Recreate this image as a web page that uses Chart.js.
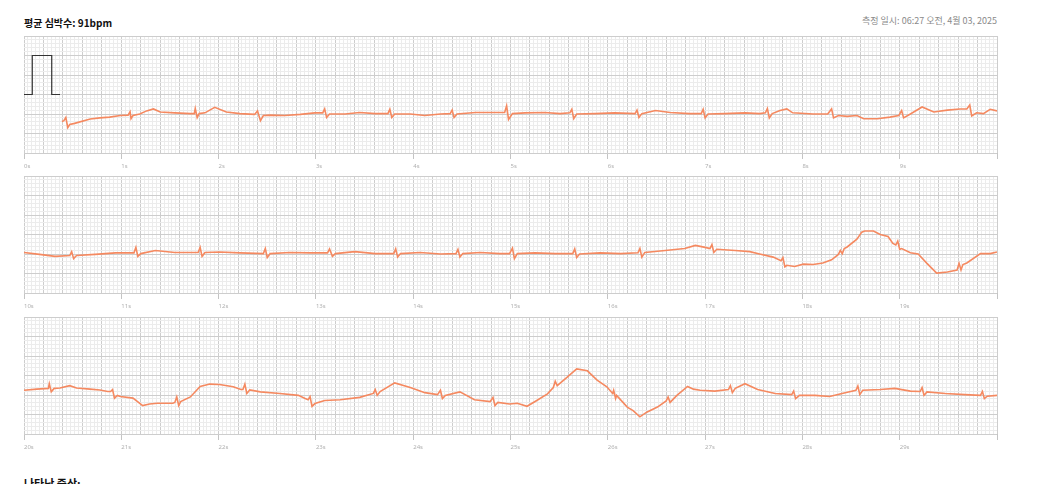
<!DOCTYPE html>
<html><head><meta charset="utf-8">
<script src="https://cdn.jsdelivr.net/npm/chart.js@4.4.1/dist/chart.umd.min.js"></script>
<style>
html,body{margin:0;padding:0;background:#fff;width:1040px;height:484px;overflow:hidden;font-family:"Noto Sans CJK KR","Noto Sans",sans-serif;}
.t{position:absolute;white-space:nowrap;line-height:15px;}
.strip{position:absolute;left:0;width:1040px;height:142px;}
</style></head><body>
<div class="t" style="left:24px;top:15px;font-size:10px;font-weight:700;color:#111">평균 심박수: 91bpm</div>
<div class="t" style="right:43px;top:13px;font-size:9px;color:#8a8a8a">측정 일시: 06:27 오전, 4월 03, 2025</div>
<div class="strip" style="top:34px"><canvas id="c0"></canvas></div>
<div class="strip" style="top:174px"><canvas id="c1"></canvas></div>
<div class="strip" style="top:315px"><canvas id="c2"></canvas></div>
<div class="t" style="left:24px;top:476px;font-size:11px;font-weight:700;color:#111">나타난 증상:</div>
<script>
// seconds at the start of each strip
const stripStartSec = [0, 10, 20];

// calibration pulse (time s, mV)
const row1Cal = [[0,0],[0.085,0],[0.085,1],[0.285,1],[0.285,0],[0.37,0]];

// ECG strip 1 (time s, mV)
const row1Ecg = [[0.39,-0.69],[0.41,-0.67],[0.43,-0.59],[0.45,-0.85],[0.47,-0.77],[0.52,-0.74],[0.68,-0.63],[0.78,-0.60],[0.88,-0.58],[0.99,-0.54],[1.07,-0.53],[1.09,-0.44],[1.10,-0.62],[1.12,-0.54],[1.19,-0.50],[1.26,-0.42],[1.33,-0.37],[1.40,-0.45],[1.55,-0.47],[1.71,-0.49],[1.75,-0.49],[1.76,-0.36],[1.78,-0.59],[1.80,-0.49],[1.86,-0.47],[1.96,-0.33],[2.08,-0.45],[2.22,-0.49],[2.37,-0.51],[2.40,-0.42],[2.43,-0.67],[2.46,-0.54],[2.53,-0.53],[2.68,-0.54],[2.84,-0.51],[2.99,-0.47],[3.07,-0.47],[3.09,-0.37],[3.11,-0.59],[3.14,-0.50],[3.30,-0.50],[3.45,-0.46],[3.61,-0.49],[3.74,-0.49],[3.76,-0.38],[3.78,-0.59],[3.81,-0.50],[3.97,-0.50],[4.12,-0.54],[4.28,-0.50],[4.38,-0.49],[4.40,-0.40],[4.42,-0.59],[4.45,-0.50],[4.64,-0.46],[4.84,-0.46],[4.94,-0.46],[4.96,-0.29],[4.98,-0.64],[5.02,-0.49],[5.15,-0.47],[5.35,-0.46],[5.51,-0.49],[5.61,-0.47],[5.63,-0.38],[5.65,-0.62],[5.68,-0.50],[5.87,-0.49],[6.07,-0.47],[6.28,-0.49],[6.30,-0.40],[6.32,-0.59],[6.35,-0.49],[6.49,-0.41],[6.64,-0.46],[6.84,-0.49],[6.96,-0.49],[6.98,-0.38],[7.00,-0.60],[7.03,-0.50],[7.20,-0.49],[7.41,-0.47],[7.56,-0.49],[7.62,-0.47],[7.64,-0.36],[7.66,-0.60],[7.69,-0.49],[7.77,-0.41],[7.84,-0.37],[7.90,-0.47],[8.11,-0.50],[8.26,-0.50],[8.30,-0.37],[8.32,-0.60],[8.37,-0.54],[8.46,-0.56],[8.56,-0.54],[8.63,-0.62],[8.77,-0.62],[8.90,-0.58],[8.99,-0.54],[9.02,-0.41],[9.04,-0.60],[9.11,-0.50],[9.23,-0.32],[9.35,-0.45],[9.49,-0.40],[9.62,-0.37],[9.69,-0.37],[9.72,-0.27],[9.74,-0.55],[9.79,-0.47],[9.86,-0.49],[9.93,-0.38],[10.0,-0.42]];

// ECG strip 2 (time s, mV)
const row2Ecg = [[0.00,-0.46],[0.16,-0.51],[0.32,-0.56],[0.47,-0.54],[0.49,-0.44],[0.51,-0.62],[0.54,-0.54],[0.73,-0.51],[0.94,-0.47],[1.13,-0.47],[1.15,-0.33],[1.17,-0.56],[1.20,-0.49],[1.35,-0.41],[1.55,-0.46],[1.71,-0.46],[1.79,-0.46],[1.81,-0.33],[1.83,-0.56],[1.86,-0.46],[2.01,-0.45],[2.22,-0.47],[2.46,-0.49],[2.48,-0.36],[2.50,-0.59],[2.53,-0.49],[2.73,-0.46],[2.94,-0.47],[3.12,-0.47],[3.14,-0.37],[3.17,-0.56],[3.20,-0.49],[3.40,-0.44],[3.61,-0.49],[3.80,-0.49],[3.82,-0.37],[3.84,-0.58],[3.87,-0.49],[4.07,-0.46],[4.28,-0.50],[4.44,-0.49],[4.46,-0.38],[4.48,-0.58],[4.51,-0.49],[4.69,-0.46],[4.89,-0.49],[4.99,-0.49],[5.02,-0.35],[5.04,-0.62],[5.07,-0.49],[5.25,-0.47],[5.46,-0.49],[5.64,-0.49],[5.66,-0.37],[5.68,-0.59],[5.71,-0.50],[5.92,-0.47],[6.13,-0.49],[6.31,-0.47],[6.33,-0.36],[6.35,-0.58],[6.38,-0.46],[6.59,-0.41],[6.79,-0.36],[6.90,-0.28],[7.00,-0.33],[7.05,-0.36],[7.07,-0.26],[7.09,-0.46],[7.12,-0.38],[7.31,-0.41],[7.46,-0.44],[7.56,-0.50],[7.70,-0.58],[7.78,-0.67],[7.80,-0.59],[7.82,-0.83],[7.84,-0.79],[7.92,-0.82],[8.01,-0.76],[8.11,-0.77],[8.21,-0.73],[8.30,-0.65],[8.37,-0.51],[8.39,-0.41],[8.41,-0.49],[8.43,-0.36],[8.46,-0.32],[8.56,-0.12],[8.61,0.06],[8.64,0.09],[8.73,0.09],[8.80,0.00],[8.88,-0.05],[8.93,-0.23],[8.96,-0.27],[8.98,-0.17],[9.00,-0.38],[9.02,-0.36],[9.11,-0.47],[9.19,-0.50],[9.28,-0.74],[9.38,-0.99],[9.49,-0.96],[9.59,-0.91],[9.61,-0.74],[9.63,-0.91],[9.65,-0.77],[9.69,-0.73],[9.83,-0.49],[9.93,-0.49],[10.0,-0.45]];

// ECG strip 3 (time s, mV)
const row3Ecg = [[0.00,-0.38],[0.13,-0.35],[0.25,-0.33],[0.26,-0.21],[0.28,-0.42],[0.31,-0.33],[0.37,-0.32],[0.47,-0.26],[0.54,-0.32],[0.68,-0.35],[0.78,-0.37],[0.86,-0.41],[0.89,-0.41],[0.91,-0.36],[0.93,-0.58],[0.96,-0.51],[0.99,-0.54],[1.12,-0.58],[1.22,-0.77],[1.29,-0.73],[1.37,-0.71],[1.53,-0.71],[1.55,-0.69],[1.57,-0.55],[1.59,-0.77],[1.61,-0.67],[1.71,-0.55],[1.81,-0.28],[1.91,-0.22],[2.01,-0.23],[2.15,-0.29],[2.23,-0.36],[2.25,-0.36],[2.27,-0.22],[2.29,-0.46],[2.32,-0.37],[2.43,-0.42],[2.63,-0.46],[2.82,-0.51],[2.89,-0.59],[2.92,-0.62],[2.94,-0.54],[2.96,-0.79],[2.99,-0.72],[3.09,-0.64],[3.25,-0.62],[3.45,-0.56],[3.59,-0.46],[3.61,-0.36],[3.63,-0.51],[3.66,-0.41],[3.81,-0.19],[3.97,-0.31],[4.12,-0.44],[4.25,-0.49],[4.28,-0.38],[4.30,-0.59],[4.33,-0.51],[4.48,-0.42],[4.63,-0.62],[4.79,-0.67],[4.82,-0.56],[4.84,-0.77],[4.87,-0.69],[4.99,-0.73],[5.07,-0.71],[5.17,-0.79],[5.27,-0.64],[5.38,-0.47],[5.44,-0.31],[5.46,-0.15],[5.48,-0.26],[5.58,-0.05],[5.68,0.17],[5.79,0.12],[5.89,-0.12],[5.99,-0.29],[6.05,-0.46],[6.06,-0.38],[6.08,-0.59],[6.09,-0.51],[6.20,-0.81],[6.26,-0.90],[6.33,-1.06],[6.40,-0.94],[6.51,-0.81],[6.60,-0.65],[6.62,-0.55],[6.64,-0.69],[6.71,-0.51],[6.82,-0.28],[6.88,-0.35],[6.95,-0.38],[7.10,-0.40],[7.24,-0.36],[7.26,-0.26],[7.28,-0.44],[7.31,-0.33],[7.41,-0.21],[7.54,-0.36],[7.72,-0.46],[7.89,-0.49],[7.91,-0.40],[7.93,-0.59],[7.97,-0.51],[8.13,-0.51],[8.28,-0.54],[8.44,-0.44],[8.55,-0.38],[8.57,-0.27],[8.59,-0.49],[8.62,-0.38],[8.80,-0.36],[8.95,-0.33],[9.11,-0.40],[9.21,-0.41],[9.23,-0.31],[9.25,-0.51],[9.28,-0.42],[9.47,-0.46],[9.67,-0.49],[9.83,-0.51],[9.85,-0.41],[9.87,-0.59],[9.90,-0.53],[10.0,-0.51]];

const MAJOR = '#cdcdcd', MINOR = '#ececec', ECG_COLOR = '#f58960';
Chart.defaults.font.family = '"Noto Sans", sans-serif';

function toXY(arr){ return arr.map(p => ({x:p[0], y:p[1]})); }

function makeStrip(id, datasets, startSec) {
  new Chart(document.getElementById(id), {
    type: 'line',
    data: { datasets },
    options: {
      animation: false, responsive: true, maintainAspectRatio: false,
      layout: { padding: { left: 24, right: 43, top: 2, bottom: 0 } },
      plugins: { legend: { display: false }, tooltip: { enabled: false } },
      elements: { point: { radius: 0 }, line: { tension: 0 } },
      scales: {
        x: {
          type: 'linear', min: 0, max: 10,
          afterFit(s) { s.height = 23; },
          border: { display: false },
          grid: {
            color: c => (c.index % 5 === 0 ? MAJOR : MINOR),
            lineWidth: 1, drawTicks: true, tickLength: 6,
            tickColor: c => (c.index % 25 === 0 ? '#c4c4c4' : 'rgba(0,0,0,0)')
          },
          ticks: {
            stepSize: 0.04, autoSkip: false, maxRotation: 0, minRotation: 0,
            align: 'start', padding: 4, color: '#b0b0b0', font: { size: 6 },
            callback: (v, i) => (i % 25 === 0 && i < 250) ? (startSec + i / 25) + 's' : ''
          }
        },
        y: {
          min: -1.5, max: 1.5,
          afterFit(s) { s.width = 0; },
          border: { display: false },
          grid: { color: c => (c.index % 5 === 0 ? MAJOR : MINOR), lineWidth: 1, drawTicks: false },
          ticks: { display: false, stepSize: 0.1 }
        }
      }
    }
  });
}

const ecgStyle = { borderColor: ECG_COLOR, borderWidth: 1.6, pointRadius: 0, fill: false };

makeStrip('c0', [
  Object.assign({ data: toXY(row1Cal) }, { borderColor: '#333', borderWidth: 1.2, pointRadius: 0, fill: false }),
  Object.assign({ data: toXY(row1Ecg) }, ecgStyle)
], stripStartSec[0]);
makeStrip('c1', [Object.assign({ data: toXY(row2Ecg) }, ecgStyle)], stripStartSec[1]);
makeStrip('c2', [Object.assign({ data: toXY(row3Ecg) }, ecgStyle)], stripStartSec[2]);
</script>
</body></html>
